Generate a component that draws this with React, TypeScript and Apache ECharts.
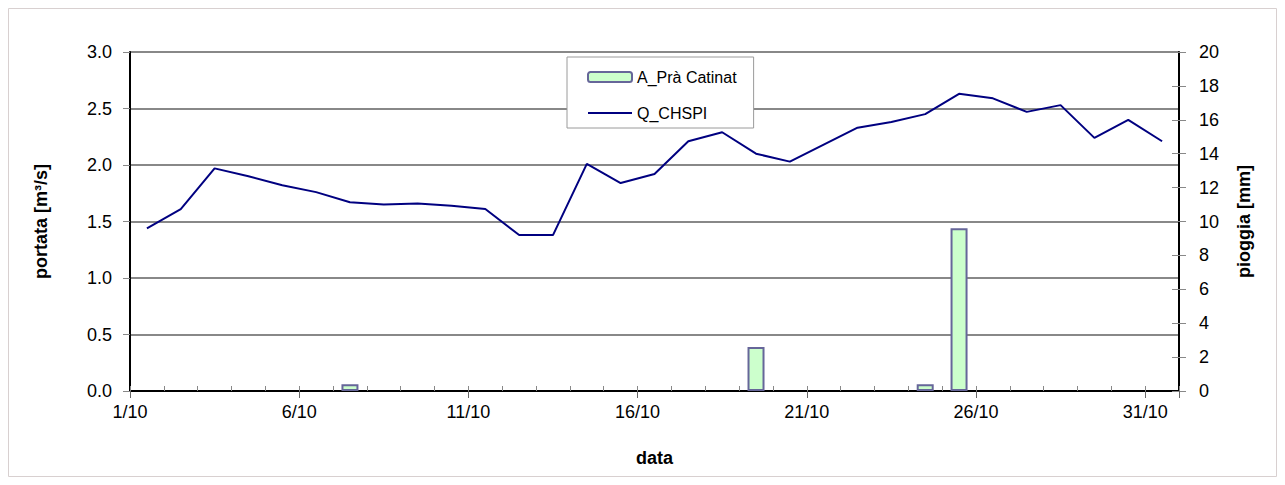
import React, { useEffect, useRef } from "react";
import * as echarts from "echarts";

const xTickLabels = ["1/10", "6/10", "11/10", "16/10", "21/10", "26/10", "31/10"];
const flowValues = [
  1.44, 1.61, 1.97, 1.9, 1.82, 1.76, 1.67, 1.65, 1.66, 1.64, 1.61, 1.38, 1.38, 2.01, 1.84, 1.92,
  2.21, 2.29, 2.1, 2.03, 2.18, 2.33, 2.38, 2.45, 2.63, 2.59, 2.47, 2.53, 2.24, 2.4, 2.21,
];
const rainValues = [
  0, 0, 0, 0, 0, 0, 0.4, 0, 0, 0, 0, 0, 0, 0, 0, 0, 0, 0, 2.6, 0, 0, 0, 0, 0.4, 9.6, 0, 0, 0, 0, 0, 0,
];

const FONT = "'Liberation Sans', Arial, sans-serif";

export default function App() {
  const ref = useRef<HTMLDivElement>(null);
  useEffect(() => {
    if (!ref.current) return;
    const chart = echarts.init(ref.current, undefined, { renderer: "svg" });
    const flowData = flowValues.map((v, i) => [i + 0.5, v]);
    const rainData = rainValues.map((v, i) => [i + 0.5, v > 0 ? v : null]);
    chart.setOption({
      animation: false,
      textStyle: { fontFamily: FONT },
      graphic: [
        {
          type: "rect",
          shape: { x: 0.5, y: 0.5, width: 1268, height: 468 },
          style: { fill: "none", stroke: "#d8d0d0", lineWidth: 1 },
          silent: true,
        },
      ],
      grid: { left: 122, right: 98, top: 44, bottom: 86 },
      legend: {
        orient: "vertical",
        left: 559,
        top: 49,
        itemWidth: 44,
        itemHeight: 10,
        itemGap: 20,
        padding: [12, 17, 7, 20],
        backgroundColor: "#ffffff",
        borderColor: "#9a9a9a",
        borderWidth: 1,
        borderRadius: 0,
        textStyle: { fontSize: 16, color: "#000", fontFamily: FONT },
        data: [
          { name: "A_Prà Catinat" },
          { name: "Q_CHSPI", itemStyle: { opacity: 0 }, lineStyle: { color: "#000080", width: 2 } },
        ],
      },
      xAxis: [
        {
          type: "value",
          min: 0,
          max: 31,
          interval: 5,
          name: "data",
          nameLocation: "middle",
          nameGap: 58,
          nameTextStyle: { fontSize: 18, fontWeight: "bold", color: "#000" },
          axisLine: { show: true, onZero: false, lineStyle: { color: "#000", width: 2 } },
          axisTick: { show: true, inside: false, length: 7, lineStyle: { color: "#666" } },
          axisLabel: {
            fontSize: 18,
            color: "#000",
            margin: 12,
            formatter: (v: number) => (v % 5 === 0 ? xTickLabels[v / 5] ?? "" : ""),
          },
          splitLine: { show: false },
        },
        {
          type: "value",
          min: 0,
          max: 31,
          interval: 1,
          position: "bottom",
          axisLine: { show: false, onZero: false },
          axisTick: { show: true, inside: true, length: 5, lineStyle: { color: "#888" } },
          axisLabel: { show: false },
          splitLine: { show: false },
        },
      ],
      yAxis: [
        {
          type: "value",
          min: 0,
          max: 3,
          interval: 0.5,
          name: "portata [m³/s]",
          nameLocation: "middle",
          nameGap: 80,
          nameTextStyle: { fontSize: 18, fontWeight: "bold", color: "#000" },
          axisLine: { show: true, onZero: false, lineStyle: { color: "#000", width: 2 } },
          axisTick: { show: true, length: 7, lineStyle: { color: "#888" } },
          axisLabel: {
            fontSize: 18,
            color: "#000",
            margin: 18,
            formatter: (v: number) => v.toFixed(1),
          },
          splitLine: { show: true, lineStyle: { color: "#888", width: 2 } },
        },
        {
          type: "value",
          min: 0,
          max: 20,
          interval: 2,
          name: "pioggia [mm]",
          nameLocation: "middle",
          nameGap: 56,
          nameTextStyle: { fontSize: 18, fontWeight: "bold", color: "#000" },
          position: "right",
          axisLine: { show: true, onZero: false, lineStyle: { color: "#000", width: 2 } },
          axisTick: { show: true, length: 7, lineStyle: { color: "#888" } },
          axisLabel: { fontSize: 18, color: "#000", margin: 20 },
          splitLine: { show: false },
        },
        {
          type: "value",
          min: 0,
          max: 20,
          interval: 2,
          position: "right",
          axisLine: { show: false, onZero: false },
          axisTick: { show: true, inside: true, length: 7, lineStyle: { color: "#888" } },
          axisLabel: { show: false },
          splitLine: { show: false },
        },
      ],
      series: [
        {
          name: "A_Prà Catinat",
          type: "bar",
          xAxisIndex: 0,
          yAxisIndex: 1,
          barWidth: 17,
          data: rainData,
          itemStyle: { color: "#ccffcc", borderColor: "#666699", borderWidth: 2 },
        },
        {
          name: "Q_CHSPI",
          type: "line",
          xAxisIndex: 0,
          yAxisIndex: 0,
          symbol: "none",
          data: flowData,
          lineStyle: { color: "#000080", width: 2 },
          itemStyle: { color: "#000080" },
        },
      ],
    });
    return () => chart.dispose();
  }, []);
  return <div ref={ref} style={{ width: 1269, height: 469 }} />;
}
